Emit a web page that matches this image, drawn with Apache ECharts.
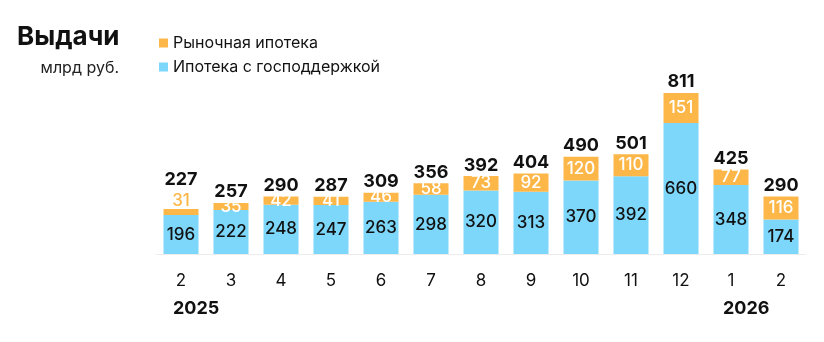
<!DOCTYPE html>
<html><head><meta charset="utf-8">
<script src="https://cdn.jsdelivr.net/npm/echarts@6/dist/echarts.min.js"></script>
<style>html,body{margin:0;padding:0;background:#fff}#c{width:824px;height:342px}</style>
</head><body><div id="c"></div>
<script>
const categories = ['2','3','4','5','6','7','8','9','10','11','12','1','2'];
const yearLabels = ['2025','','','','','','','','','','','2026',''];
const stateSupported = [196,222,248,247,263,298,320,313,370,392,660,348,174];
const market = [31,35,42,41,46,58,73,92,120,110,151,77,116];
const totals = [227,257,290,287,309,356,392,404,490,501,811,425,290];

const FONT = 'Inter';
const ORANGE = '#FDB748';
const BLUE = '#7DD7FB';
const chart = echarts.init(document.getElementById('c'));

const marketData = market.map((v, i) => i === 0 ? {
  value: v,
  label: { position: 'top', color: ORANGE, distance: 0 }
} : v);
const totalData = totals.map((v, i) => i === 0 ? { value: v, label: { offset: [0, -18] } } : v);

const baseGraphics = [
  { type: 'text', left: 17, top: 24, style: { text: 'Выдачи', fontFamily: FONT, fontSize: 26, fontWeight: 'bold', fill: '#111' } },
  { type: 'text', x: 119, y: 60, style: { text: 'млрд руб.', fontFamily: FONT, fontSize: 16, fill: '#222', align: 'right' } }
];

chart.setOption({
  animation: false,
  textStyle: { fontFamily: FONT },
  grid: { left: 156, right: 18, top: 75.3, bottom: 88 },
  legend: {
    orient: 'vertical', left: 154, top: 30,
    itemWidth: 9, itemHeight: 9, itemGap: 8, icon: 'rect',
    data: ['Рыночная ипотека', 'Ипотека с господдержкой'],
    textStyle: { fontFamily: FONT, fontSize: 16, color: '#111' }
  },
  xAxis: {
    type: 'category', data: categories,
    axisLine: { lineStyle: { color: '#ececec', width: 1 } },
    axisTick: { show: false },
    axisLabel: { fontFamily: FONT, fontSize: 17, color: '#111', margin: 18 }
  },
  yAxis: { type: 'value', min: 0, max: 900, show: false, splitLine: { show: false } },
  series: [
    {
      name: 'Ипотека с господдержкой', type: 'bar', stack: 's', barWidth: 35,
      data: stateSupported, itemStyle: { color: BLUE },
      label: { show: true, position: 'inside', color: '#111', fontFamily: FONT, fontSize: 17, fontWeight: 500 }
    },
    {
      name: 'Рыночная ипотека', type: 'bar', stack: 's', barWidth: 35,
      data: marketData, itemStyle: { color: ORANGE },
      label: { show: true, position: 'inside', color: '#fff', fontFamily: FONT, fontSize: 17, fontWeight: 500 }
    },
    {
      name: 'total', type: 'scatter', data: totalData, symbolSize: 0, silent: true,
      itemStyle: { opacity: 1 },
      label: { show: true, position: 'top', distance: 2, color: '#111', fontFamily: FONT, fontSize: 18, fontWeight: 'bold' }
    }
  ],
  graphic: baseGraphics
});

const yearGraphics = [];
yearLabels.forEach((y, i) => {
  if (!y) return;
  const px = chart.convertToPixel({ xAxisIndex: 0 }, i);
  yearGraphics.push({ type: 'text', x: px - 8, y: 300, style: { text: y, fontFamily: FONT, fontSize: 18, fontWeight: 'bold', fill: '#111' } });
});
chart.setOption({ graphic: baseGraphics.concat(yearGraphics) }, { replaceMerge: ['graphic'] });
</script></body></html>
